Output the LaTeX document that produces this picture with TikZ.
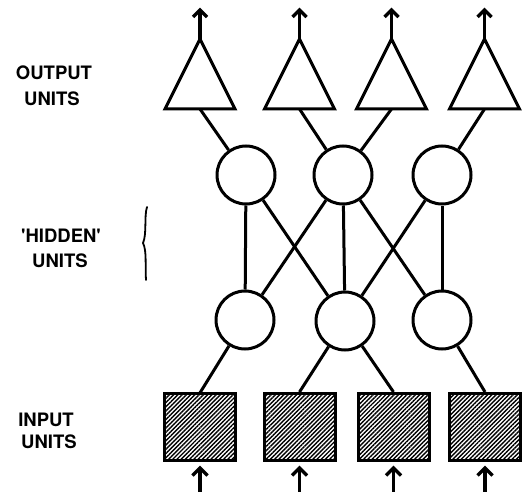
\documentclass[tikz,border=0pt]{standalone}
\usepackage{fontspec}
\setmainfont{TeX Gyre Heros}
\usetikzlibrary{arrows.meta,patterns.meta}
\begin{document}
\begin{tikzpicture}[x=1pt,y=-1pt,
  wire/.style={line width=3pt},
  unit/.style={circle,draw,line width=3pt,minimum size=58pt,inner sep=0pt},
  inbox/.style={draw,line width=3pt,minimum width=71pt,minimum height=67pt,inner sep=0pt,
    pattern={Lines[angle=45,distance=3pt,line width=1.4pt]}},
  flow/.style={line width=3.8pt},
  barb/.style={line width=3.4pt,line join=miter,line cap=butt},
  lbl/.style={font=\bfseries\fontsize{18.5}{20}\selectfont,anchor=base,inner sep=0pt}]

\useasboundingbox (0,0) rectangle (525,492);

% output units: triangles with outgoing arrows (stem plus open arrowhead)
\foreach \n/\x in {1/200,2/299.5,3/391.5,4/484.5}{
  \coordinate (t\n a) at (\x,39);
  \coordinate (t\n b) at (\x,109);
  \coordinate (t\n o) at (\x,10);
  \draw[wire,line join=miter] ({\x-35},109) -- (t\n a) -- ({\x+35},109) -- cycle;
  \draw[flow] (t\n a) -- (t\n o);
  \draw[barb] ([xshift=-7pt,yshift=-7pt]t\n o) -- (t\n o) -- ([xshift=7pt,yshift=-7pt]t\n o);
}

% hidden units
\node[unit] (u1) at (246,175) {};
\node[unit] (u2) at (343,175) {};
\node[unit] (u3) at (442,175) {};
\node[unit] (l1) at (245,320) {};
\node[unit] (l2) at (345,321) {};
\node[unit] (l3) at (442,320) {};

% input units: hatched boxes with incoming arrows
\foreach \n/\x in {1/200,2/299.5,3/393.5,4/485}{
  \node[inbox] (b\n) at (\x,427) {};
  \coordinate (b\n s) at (\x,496);
  \coordinate (b\n t) at (\x,468);
  \draw[flow] (b\n s) -- (b\n t);
  \draw[barb] ([xshift=-7.5pt,yshift=-7.5pt]b\n t) -- (b\n t) -- ([xshift=7.5pt,yshift=-7.5pt]b\n t);
}

% connections
\draw[wire] (t1b) -- (u1);
\draw[wire] (t2b) -- (u2);
\draw[wire] (t3b) -- (u2);
\draw[wire] (t4b) -- (u3);

\draw[wire] (u1) -- (l1);
\draw[wire] (u1) -- (l2);
\draw[wire] (u2) -- (l1);
\draw[wire] (u2) -- (l2);
\draw[wire] (u2) -- (l3);
\draw[wire] (u3) -- (l2);
\draw[wire] (u3) -- (l3);

\draw[wire] (b1.north) -- (l1);
\draw[wire] (b2.north) -- (l2);
\draw[wire] (b3.north) -- (l2);
\draw[wire] (b4.north) -- (l3);

% brace beside the hidden layer
\draw[line width=1.8pt,line cap=round]
  (147,207) .. controls (144,216) and (147,234) .. (143,243)
            .. controls (147,251) and (145,266) .. (146,280);

% labels
\node[lbl] (o1) at (54,80) {OUTPUT};
\node[lbl] (o2) at (52,106) {UNITS};
\node[lbl] (h1) at (61,242) {\textquotesingle HIDDEN\textquotesingle};
\node[lbl] (h2) at (60,267) {UNITS};
\node[lbl] (i1) at (46,426) {INPUT};
\node[lbl] (i2) at (49,448) {UNITS};
\end{tikzpicture}
\end{document}
